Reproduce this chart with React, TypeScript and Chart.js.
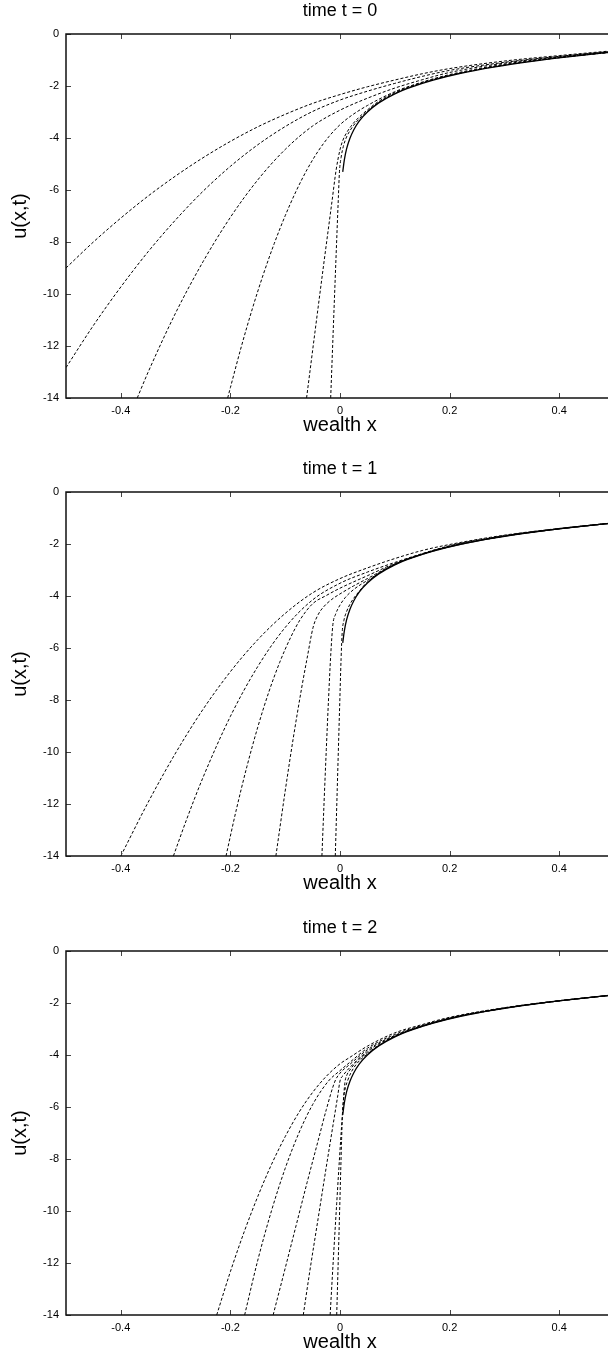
import React, { useEffect, useRef } from 'react';
import { Chart, registerables } from 'chart.js';

Chart.register(...registerables);

const FONT = '"Liberation Sans", Arial, Helvetica, sans-serif';

const X_TICKS = [-0.4, -0.2, 0, 0.2, 0.4];
const Y_TICKS = [0, -2, -4, -6, -8, -10, -12, -14];
const X_TITLE = 'wealth x';
const Y_TITLE = 'u(x,t)';
const PANEL_TITLES = ['time t = 0', 'time t = 1', 'time t = 2'];

type Pt = [number, number];

// ---------- time t = 0 ----------
const T0_SOLID: Pt[] = [[0.005, -5.3], [0.008, -4.83], [0.012, -4.42], [0.018, -4.02], [0.025, -3.69], [0.035, -3.35], [0.05, -3.0], [0.07, -2.66], [0.1, -2.3], [0.13, -2.04], [0.17, -1.77], [0.22, -1.51], [0.28, -1.27], [0.35, -1.05], [0.42, -0.87], [0.5, -0.69]];
const T0_A: Pt[] = [[-0.5, -9.0], [-0.45, -8.0], [-0.4, -7.08], [-0.35, -6.23], [-0.3, -5.46], [-0.25, -4.76], [-0.2, -4.13], [-0.15, -3.57], [-0.1, -3.09], [-0.05, -2.67], [0, -2.33], [0.05, -2.03], [0.1, -1.77], [0.15, -1.53], [0.2, -1.33], [0.3, -1.04], [0.4, -0.83], [0.5, -0.64]];
const T0_B: Pt[] = [[-0.5, -12.83], [-0.45, -11.21], [-0.4, -9.73], [-0.35, -8.37], [-0.3, -7.15], [-0.25, -6.05], [-0.2, -5.09], [-0.15, -4.26], [-0.1, -3.56], [-0.05, -2.98], [0, -2.54], [0.05, -2.2], [0.1, -1.9], [0.15, -1.63], [0.2, -1.4], [0.3, -1.09], [0.4, -0.86], [0.5, -0.66]];
const T0_C: Pt[] = [[-0.37, -14], [-0.35, -13.0], [-0.3, -10.73], [-0.25, -8.76], [-0.2, -7.05], [-0.15, -5.61], [-0.1, -4.44], [-0.05, -3.54], [0, -2.93], [0.05, -2.47], [0.1, -2.08], [0.15, -1.76], [0.2, -1.48], [0.3, -1.12], [0.4, -0.87], [0.5, -0.67]];
const T0_D: Pt[] = [[-0.205, -14], [-0.2, -13.6], [-0.18, -12.02], [-0.16, -10.57], [-0.14, -9.25], [-0.12, -8.06], [-0.1, -6.99], [-0.08, -6.04], [-0.06, -5.21], [-0.04, -4.51], [-0.02, -3.94], [0, -3.49], [0.02, -3.15], [0.05, -2.75], [0.1, -2.22], [0.15, -1.85], [0.2, -1.56], [0.3, -1.16], [0.4, -0.89], [0.5, -0.68]];
const T0_E: Pt[] = [[-0.061, -14], [-0.045, -11.35], [-0.03, -8.9], [-0.015, -6.5], [-0.007, -5.22], [0, -4.45], [0.005, -4.1], [0.012, -3.8], [0.02, -3.55], [0.03, -3.3], [0.05, -2.92], [0.07, -2.6], [0.1, -2.25], [0.15, -1.87], [0.2, -1.59], [0.3, -1.19], [0.4, -0.91], [0.5, -0.69]];
const T0_F: Pt[] = [[-0.017, -14], [-0.012, -11.2], [-0.007, -8.45], [-0.003, -6.3], [-0.001, -5.3], [0.002, -4.75], [0.006, -4.33], [0.012, -3.96], [0.02, -3.66], [0.03, -3.38], [0.05, -2.97], [0.07, -2.64], [0.1, -2.28], [0.15, -1.88], [0.2, -1.6], [0.3, -1.19], [0.4, -0.91], [0.5, -0.69]];

// ---------- time t = 1 ----------
const T1_SOLID: Pt[] = [[0.005, -5.8], [0.008, -5.33], [0.012, -4.92], [0.018, -4.52], [0.025, -4.19], [0.035, -3.85], [0.05, -3.5], [0.07, -3.16], [0.1, -2.8], [0.13, -2.54], [0.17, -2.27], [0.22, -2.01], [0.28, -1.77], [0.35, -1.55], [0.42, -1.37], [0.5, -1.19]];
const T1_A: Pt[] = [[-0.4, -14], [-0.35, -11.93], [-0.3, -10.04], [-0.25, -8.36], [-0.2, -6.91], [-0.15, -5.68], [-0.1, -4.67], [-0.05, -3.88], [0, -3.33], [0.05, -2.92], [0.1, -2.56], [0.15, -2.25], [0.2, -2.02], [0.3, -1.66], [0.4, -1.4], [0.5, -1.18]];
const T1_B: Pt[] = [[-0.304, -14], [-0.28, -12.6], [-0.25, -10.98], [-0.2, -8.63], [-0.15, -6.71], [-0.1, -5.21], [-0.05, -4.15], [0, -3.51], [0.05, -3.08], [0.1, -2.71], [0.15, -2.37], [0.2, -2.07], [0.3, -1.68], [0.4, -1.41], [0.5, -1.19]];
const T1_C: Pt[] = [[-0.208, -14], [-0.19, -12.29], [-0.17, -10.57], [-0.15, -9.04], [-0.13, -7.7], [-0.11, -6.55], [-0.09, -5.59], [-0.073, -4.92], [-0.05, -4.3], [-0.025, -3.98], [0, -3.7], [0.05, -3.22], [0.1, -2.75], [0.15, -2.38], [0.2, -2.08], [0.3, -1.69], [0.4, -1.41], [0.5, -1.19]];
const T1_D: Pt[] = [[-0.117, -14], [-0.1, -11.5], [-0.085, -9.43], [-0.07, -7.54], [-0.06, -6.39], [-0.049, -5.2], [-0.04, -4.72], [-0.03, -4.42], [-0.015, -4.13], [0, -3.92], [0.025, -3.61], [0.05, -3.33], [0.1, -2.77], [0.15, -2.39], [0.2, -2.09], [0.3, -1.7], [0.4, -1.42], [0.5, -1.19]];
const T1_E: Pt[] = [[-0.033, -14], [-0.029, -11.9], [-0.025, -9.9], [-0.021, -8.0], [-0.017, -6.3], [-0.013, -5.1], [-0.008, -4.7], [0, -4.35], [0.01, -4.05], [0.025, -3.75], [0.05, -3.4], [0.1, -2.78], [0.15, -2.39], [0.2, -2.1], [0.3, -1.7], [0.4, -1.42], [0.5, -1.19]];
const T1_F: Pt[] = [[-0.0086, -14], [-0.005, -11.4], [-0.001, -8.5], [0.002, -6.4], [0.004, -5.4], [0.007, -4.95], [0.012, -4.6], [0.02, -4.25], [0.035, -3.82], [0.05, -3.46], [0.1, -2.79], [0.15, -2.4], [0.2, -2.11], [0.3, -1.7], [0.4, -1.42], [0.5, -1.19]];

// ---------- time t = 2 ----------
const T2_SOLID: Pt[] = [[0.005, -6.3], [0.008, -5.83], [0.012, -5.42], [0.018, -5.02], [0.025, -4.69], [0.035, -4.35], [0.05, -4.0], [0.07, -3.66], [0.1, -3.3], [0.13, -3.04], [0.17, -2.77], [0.22, -2.51], [0.28, -2.27], [0.35, -2.05], [0.42, -1.87], [0.5, -1.69]];
const T2_A: Pt[] = [[-0.225, -14], [-0.2, -12.33], [-0.175, -10.81], [-0.15, -9.44], [-0.125, -8.21], [-0.1, -7.14], [-0.075, -6.21], [-0.05, -5.44], [-0.025, -4.82], [0, -4.34], [0.018, -4.09], [0.05, -3.66], [0.1, -3.15], [0.15, -2.83], [0.2, -2.55], [0.3, -2.18], [0.4, -1.91], [0.5, -1.69]];
const T2_B: Pt[] = [[-0.174, -14], [-0.15, -11.89], [-0.125, -9.99], [-0.1, -8.36], [-0.075, -7.0], [-0.05, -5.91], [-0.021, -5.0], [0, -4.6], [0.018, -4.28], [0.05, -3.74], [0.1, -3.21], [0.15, -2.86], [0.2, -2.58], [0.3, -2.19], [0.4, -1.91], [0.5, -1.69]];
const T2_C: Pt[] = [[-0.122, -14], [-0.1, -12.2], [-0.08, -10.55], [-0.06, -8.9], [-0.04, -7.3], [-0.025, -6.1], [-0.009, -5.0], [0, -4.7], [0.018, -4.36], [0.05, -3.8], [0.1, -3.25], [0.15, -2.88], [0.2, -2.59], [0.3, -2.2], [0.4, -1.92], [0.5, -1.69]];
const T2_D: Pt[] = [[-0.067, -14], [-0.055, -12.3], [-0.04, -10.3], [-0.025, -8.3], [-0.012, -6.6], [-0.004, -5.55], [0, -5.0], [0.006, -4.78], [0.018, -4.48], [0.05, -3.86], [0.1, -3.27], [0.15, -2.89], [0.2, -2.6], [0.3, -2.2], [0.4, -1.92], [0.5, -1.69]];
const T2_E: Pt[] = [[-0.018, -14], [-0.012, -11.8], [-0.006, -9.7], [-0.001, -8.0], [0.003, -6.7], [0.006, -5.8], [0.009, -5.05], [0.013, -4.75], [0.018, -4.58], [0.03, -4.26], [0.05, -3.92], [0.1, -3.28], [0.15, -2.9], [0.2, -2.6], [0.3, -2.2], [0.4, -1.92], [0.5, -1.69]];
const T2_F: Pt[] = [[-0.006, -14], [-0.002, -11.0], [0.001, -8.7], [0.003, -7.2], [0.0045, -6.3], [0.007, -5.6], [0.01, -5.25], [0.014, -4.98], [0.02, -4.68], [0.03, -4.35], [0.05, -3.96], [0.1, -3.29], [0.2, -2.6], [0.3, -2.2], [0.4, -1.92], [0.5, -1.69]];

const PANELS = [
  { title: PANEL_TITLES[0], solid: T0_SOLID, dashed: [T0_A, T0_B, T0_C, T0_D, T0_E, T0_F] },
  { title: PANEL_TITLES[1], solid: T1_SOLID, dashed: [T1_A, T1_B, T1_C, T1_D, T1_E, T1_F] },
  { title: PANEL_TITLES[2], solid: T2_SOLID, dashed: [T2_A, T2_B, T2_C, T2_D, T2_E, T2_F] },
];

const CANVAS_W = 680;
const CANVAS_H = 458;
const PANEL_TOPS = [0, 458, 917];

const framePlugin = {
  id: 'gnuFrame',
  afterDatasetsDraw(chart: any) {
    const { ctx, chartArea, scales } = chart;
    const { left, right, top, bottom } = chartArea;
    ctx.save();
    ctx.strokeStyle = '#444';
    ctx.lineWidth = 1;
    const tl = 5;
    ctx.beginPath();
    X_TICKS.forEach((v) => {
      const px = Math.round(scales.x.getPixelForValue(v)) + 0.5;
      ctx.moveTo(px, bottom);
      ctx.lineTo(px, bottom - tl);
      ctx.moveTo(px, top);
      ctx.lineTo(px, top + tl);
    });
    Y_TICKS.forEach((v) => {
      const py = Math.round(scales.y.getPixelForValue(v)) + 0.5;
      ctx.moveTo(left, py);
      ctx.lineTo(left + tl, py);
      ctx.moveTo(right, py);
      ctx.lineTo(right - tl, py);
    });
    ctx.stroke();
    ctx.strokeStyle = '#111';
    ctx.lineWidth = 1.5;
    ctx.strokeRect(left, top, right - left, bottom - top);
    ctx.restore();
  },
};

function toXY(pts: Pt[]) {
  return pts.map(([x, y]) => ({ x, y }));
}

function Panel({ title, solid, dashed, top }: { title: string; solid: Pt[]; dashed: Pt[][]; top: number }) {
  const ref = useRef<HTMLCanvasElement | null>(null);
  useEffect(() => {
    if (!ref.current) return;
    const datasets: any[] = dashed.map((d) => ({
      data: toXY(d),
      borderColor: '#000',
      borderWidth: 1,
      borderDash: [3, 2],
      pointRadius: 0,
      fill: false,
      cubicInterpolationMode: 'monotone',
      xAxisID: 'x',
      yAxisID: 'y',
    }));
    datasets.push({
      data: toXY(solid),
      borderColor: '#000',
      borderWidth: 1.3,
      pointRadius: 0,
      fill: false,
      cubicInterpolationMode: 'monotone',
      xAxisID: 'x',
      yAxisID: 'y',
    });
    const tickFont = { family: FONT, size: 11 };
    const chart = new Chart(ref.current, {
      type: 'line',
      data: { datasets },
      options: {
        animation: false,
        responsive: false,
        devicePixelRatio: 1,
        events: [],
        layout: { padding: 0 },
        plugins: {
          legend: { display: false },
          tooltip: { enabled: false },
          title: {
            display: true,
            text: title,
            color: '#000',
            font: { family: FONT, size: 18, weight: 'normal', lineHeight: 1.2 },
            padding: { top: 0, bottom: 12.4 },
          },
        },
        scales: {
          x: {
            type: 'linear',
            position: 'bottom',
            min: -0.5,
            max: 0.5,
            grid: { display: false, drawTicks: false },
            border: { display: false },
            afterBuildTicks: (s: any) => {
              s.ticks = X_TICKS.map((v) => ({ value: v }));
            },
            ticks: {
              padding: 6,
              color: '#000',
              font: tickFont,
              autoSkip: false,
              maxRotation: 0,
              callback: (v: any) => String(v),
            },
            title: {
              display: true,
              text: X_TITLE,
              color: '#000',
              font: { family: FONT, size: 20, lineHeight: 1.2 },
              padding: { top: 0, bottom: 21 },
            },
            afterFit: (s: any) => {
              s.height = 60;
            },
          },
          y: {
            type: 'linear',
            position: 'left',
            min: -14,
            max: 0,
            grid: { display: false, drawTicks: false },
            border: { display: false },
            afterBuildTicks: (s: any) => {
              s.ticks = Y_TICKS.map((v) => ({ value: v }));
            },
            ticks: {
              padding: 7,
              color: '#000',
              font: tickFont,
              autoSkip: false,
              callback: (v: any) => String(v),
            },
            title: {
              display: true,
              text: Y_TITLE,
              color: '#000',
              font: { family: FONT, size: 20, lineHeight: 1.2 },
              padding: { top: 8.5, bottom: 0 },
            },
            afterFit: (s: any) => {
              s.width = 66;
            },
          },
          y2: {
            type: 'linear',
            position: 'right',
            min: -14,
            max: 0,
            grid: { display: false, drawTicks: false },
            border: { display: false },
            ticks: { display: false },
            afterFit: (s: any) => {
              s.width = 66;
            },
          },
        },
      } as any,
      plugins: [framePlugin],
    });
    return () => chart.destroy();
  }, [title, solid, dashed]);

  return (
    <div style={{ position: 'absolute', left: 0, top, width: CANVAS_W, height: CANVAS_H }}>
      <canvas ref={ref} width={CANVAS_W} height={CANVAS_H} style={{ display: 'block', width: CANVAS_W, height: CANVAS_H }} />
    </div>
  );
}

export default function App() {
  return (
    <div style={{ position: 'absolute', left: 0, top: 0, width: 608, height: 1359, overflow: 'hidden', background: '#fff' }}>
      {PANELS.map((p, i) => (
        <Panel key={i} title={p.title} solid={p.solid} dashed={p.dashed} top={PANEL_TOPS[i]} />
      ))}
    </div>
  );
}
